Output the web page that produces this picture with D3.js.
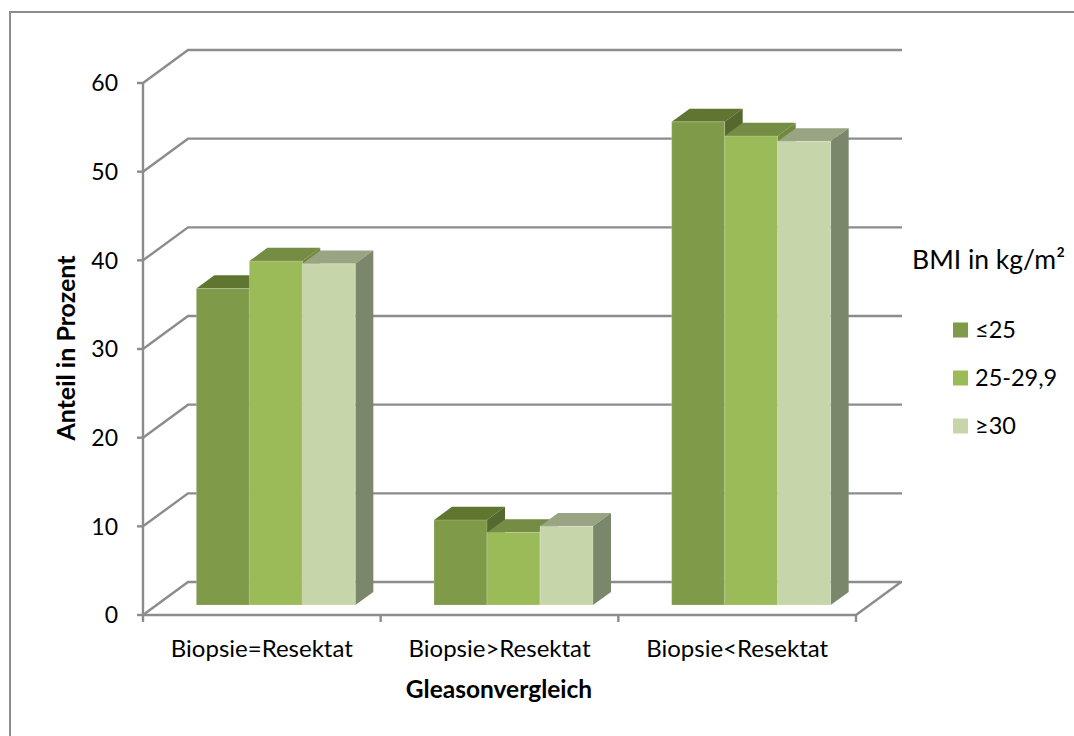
<!DOCTYPE html>
<html lang="de">
<head>
<meta charset="utf-8">
<title>Gleasonvergleich nach BMI</title>
<script src="https://cdn.jsdelivr.net/npm/d3@7/dist/d3.min.js"></script>
<style>
  html, body { margin: 0; padding: 0; background: #fff; }
  svg { display: block; }
  text { font-family: Lato, "Open Sans", sans-serif; fill: #000; }
</style>
</head>
<body>
<svg id="chart" width="1074" height="736"></svg>
<script>
// Chart content
const categories = ["Biopsie=Resektat", "Biopsie>Resektat", "Biopsie<Resektat"];
const seriesNames = ["≤25", "25-29,9", "≥30"];
const seriesValues = [
  [35.7, 9.6, 54.5],
  [38.8, 8.2, 52.9],
  [38.5, 8.9, 52.3]
];
const yTicks = [0, 10, 20, 30, 40, 50, 60];

// Shading of each series: front, top and right faces
const frontColors = ["#7f9a48", "#9bbb59", "#c7d6aa"];
const topColors = ["#5f7530", "#748c43", "#98a482"];
const sideColors = ["#55682d", "#6f8a3a", "#7a876b"];

const svg = d3.select("#chart");

// Chart area border, top and left edges
svg.append("path")
  .attr("d", "M10 736V12H1074")
  .attr("fill", "none").attr("stroke", "#8c8c8c").attr("stroke-width", 2);

// Oblique projection: z runs 0 (front) to 1 (back wall)
const depthX = 45, depthY = 33;
const x = d3.scaleBand().domain(categories).range([143, 856]);
const y = d3.scaleLinear().domain([0, 60]).range([615, 83]);
const project = (px, py, z) => [px + z * depthX, py - z * depthY];
const barZ0 = 0.3, barZ1 = 0.7;
const barWidth = 53;

const axisColor = "#8c8c8c";
const line = d3.line();
const axes = svg.append("g").attr("fill", "none").attr("stroke", axisColor).attr("stroke-width", 2.4);

// Back wall gridlines and the matching edges on the side wall
yTicks.forEach(t => {
  const front = [x.range()[0], y(t)];
  const back = project(front[0], front[1], 1);
  axes.append("path").attr("d", line([front, back, [902, back[1]]]));
  axes.append("path").attr("d", line([[137, y(t)], front]));
});
// Vertical axis and floor front edge
axes.append("path").attr("d", line([[143, y(60)], [143, y(0)], [856, y(0)]]));
// Floor right edge
axes.append("path").attr("d", line([[856, y(0)], project(856, y(0), 1)]));
// Category ticks
[...categories.map(c => x(c)), x.range()[1]].forEach(px => {
  axes.append("path").attr("d", line([[px, y(0)], [px, 622]]));
});

// Bars, drawn left to right so later fronts cover earlier right faces
const bars = svg.append("g");
categories.forEach((cat, ci) => {
  const groupLeft = x(cat) + (x.bandwidth() - barWidth * seriesNames.length) / 2 + 0.5;
  seriesNames.forEach((name, si) => {
    const value = seriesValues[si][ci];
    const x0 = groupLeft + si * barWidth, x1 = x0 + barWidth;
    const yTop = y(value), yBase = y(0);
    const fA = (px, py) => project(px, py, barZ0);
    const bA = (px, py) => project(px, py, barZ1);
    const poly = (pts, fill) => bars.append("path")
      .attr("d", line(pts) + "Z").attr("fill", fill);
    poly([fA(x0, yTop), bA(x0, yTop), bA(x1, yTop), fA(x1, yTop)], topColors[si]);
    poly([fA(x1, yTop), bA(x1, yTop), bA(x1, yBase), fA(x1, yBase)], sideColors[si]);
    poly([fA(x0, yTop), fA(x1, yTop), fA(x1, yBase), fA(x0, yBase)], frontColors[si])
      .attr("stroke", "#fff").attr("stroke-opacity", 0.2).attr("stroke-width", 1);
  });
});

// Value axis labels
svg.append("g").selectAll("text").data(yTicks).join("text")
  .attr("x", 118).attr("y", d => y(d)).attr("dy", "0.36em")
  .attr("text-anchor", "end").attr("font-size", 23)
  .text(d => d);

// Category labels
svg.append("g").selectAll("text").data(categories).join("text")
  .attr("x", d => x(d) + x.bandwidth() / 2).attr("y", 657)
  .attr("text-anchor", "middle").attr("font-size", 24)
  .text(d => d);

// Axis titles
svg.append("text")
  .attr("x", 499).attr("y", 698).attr("text-anchor", "middle")
  .attr("font-size", 24.5).attr("font-weight", 700)
  .text("Gleasonvergleich");
svg.append("text")
  .attr("transform", "translate(75,348) rotate(-90)").attr("text-anchor", "middle")
  .attr("font-size", 25).attr("font-weight", 700)
  .text("Anteil in Prozent");

// Legend
svg.append("text").attr("x", 912).attr("y", 269).attr("font-size", 26.5).text("BMI in kg/m²");
const legendY = d3.scalePoint().domain(seriesNames).range([330, 426]);
const legend = svg.append("g");
legend.selectAll("rect").data(seriesNames).join("rect")
  .attr("x", 953).attr("y", d => legendY(d) - 7.5).attr("width", 15).attr("height", 15)
  .attr("fill", (d, i) => frontColors[i]);
legend.selectAll("text").data(seriesNames).join("text")
  .attr("x", 975).attr("y", d => legendY(d)).attr("dy", "0.34em")
  .attr("font-size", 23.5)
  .text(d => d);
</script>
</body>
</html>
